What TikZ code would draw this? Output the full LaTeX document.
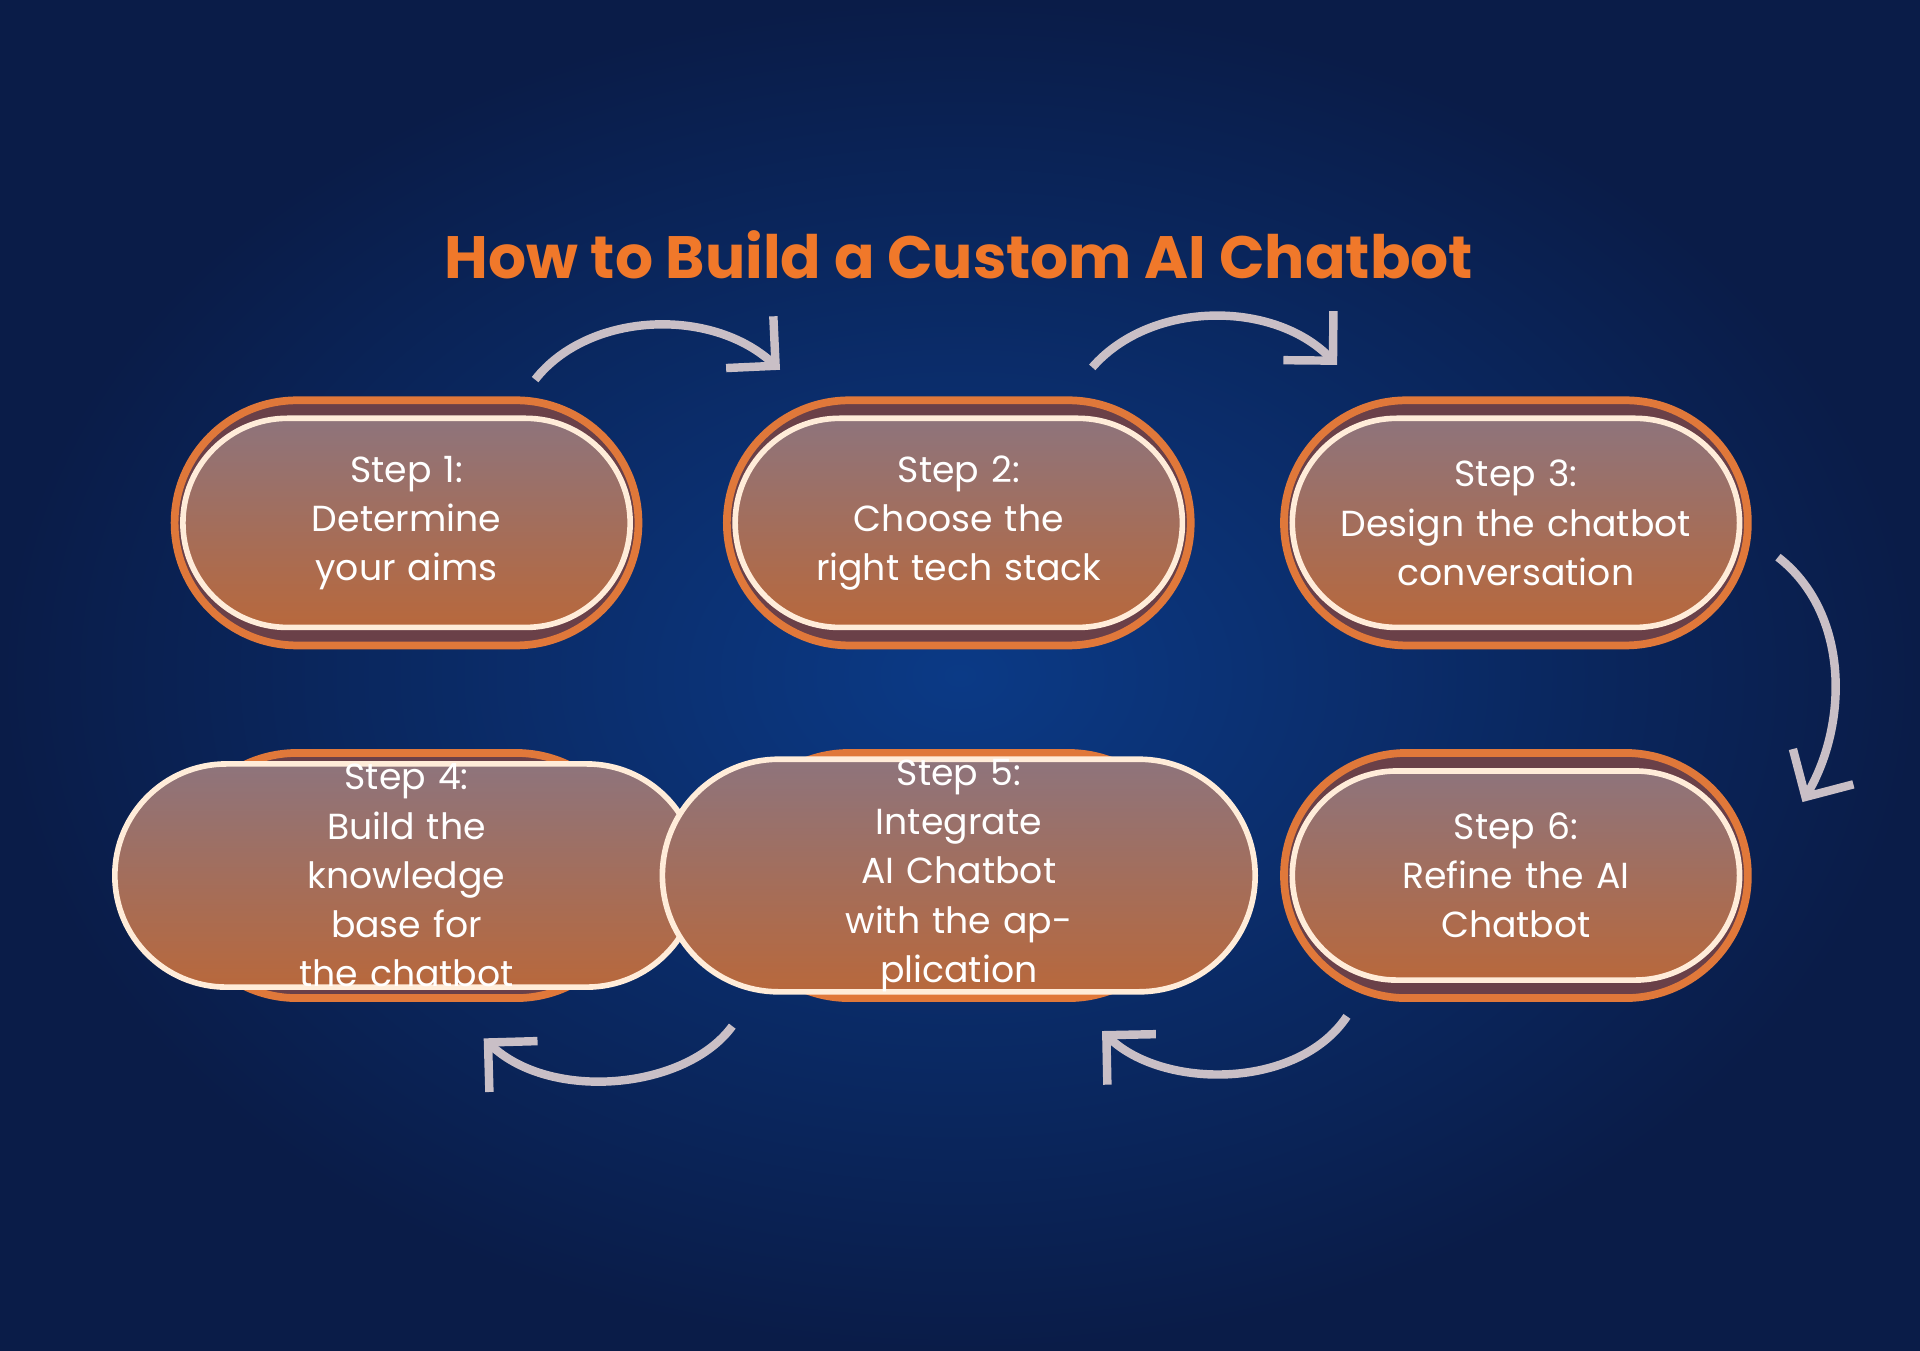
\documentclass[tikz,border=0pt]{standalone}
\usepackage{fontspec}
\setmainfont{Poppins}
\usetikzlibrary{shapes.misc,arrows.meta}
\definecolor{bgA}{HTML}{0B3A86}
\definecolor{bgB}{HTML}{0A1C48}
\definecolor{ttl}{HTML}{F0782A}
\definecolor{ring}{HTML}{E0783A}
\definecolor{ringfill}{HTML}{6A4048}
\definecolor{inTop}{HTML}{8E747C}
\definecolor{inBot}{HTML}{B8683C}
\definecolor{arr}{HTML}{C9BFC6}
\tikzset{
 outer/.style={rounded rectangle, minimum width=4.87cm, minimum height=2.45cm, fill=ringfill, draw=ring, line width=2.2pt},
 inner/.style={rounded rectangle, minimum width=4.47cm, minimum height=2.09cm, inner sep=0pt, text width=3.6cm, top color=inTop, bottom color=inBot, draw=white!85!orange, line width=1.6pt, text=white, align=center, font=\fontsize{10.3}{14}\selectfont},
 flow/.style={arr, line width=2.4pt, -{Straight Barb[length=3.5mm,width=7mm,line width=2.4pt]}}
}
\begin{document}
\begin{tikzpicture}[x=0.012245cm,y=-0.012245cm]
\shade[inner color=bgA, outer color=bgB] (0,0) rectangle (1568,1103);
\useasboundingbox (0,0) rectangle (1568,1103);
\node[text=ttl, font=\bfseries\fontsize{17}{20}\selectfont] (title) at (783,208) {How to Build a Custom AI Chatbot};
\foreach \n/\x/\y in {1/332/427,2/783/427,3/1238/427,4/332/715,5/783/715,6/1238/715}{
  \node[outer] (o\n) at (\x,\y) {};
}
\node[inner] (s1) at (332,427) {Step 1:\\Determine\\your aims};
\node[inner] (s2) at (783,427) {Step 2:\\Choose the\\right tech stack};
\node[inner] (s3) at (1238,427) {Step 3:\\Design the chatbot\\conversation};
\node[inner] (s4) at (332,715) {Step 4:\\Build the knowledge\\base for the chatbot};
\node[inner] (s5) at (783,715) {Step 5:\\Integrate AI Chatbot\\with the application};
\node[inner] (s6) at (1238,715) {Step 6:\\Refine the AI\\Chatbot};
\coordinate (a1) at (437,310); \coordinate (b1) at (637,302);
\coordinate (a2) at (892,300); \coordinate (b2) at (1092,298);
\coordinate (a3) at (1452,455); \coordinate (b3) at (1472,655);
\coordinate (a4) at (1100,830); \coordinate (b4) at (900,842);
\coordinate (a5) at (598,838); \coordinate (b5) at (395,848);
\draw[flow] (a1) .. controls (480,255) and (580,250) .. (b1);
\draw[flow] (a2) .. controls (940,245) and (1040,245) .. (b2);
\draw[flow] (a3) .. controls (1510,500) and (1510,590) .. (b3);
\draw[flow] (a4) .. controls (1060,890) and (950,890) .. (b4);
\draw[flow] (a5) .. controls (560,890) and (450,900) .. (b5);
\end{tikzpicture}
\end{document}
